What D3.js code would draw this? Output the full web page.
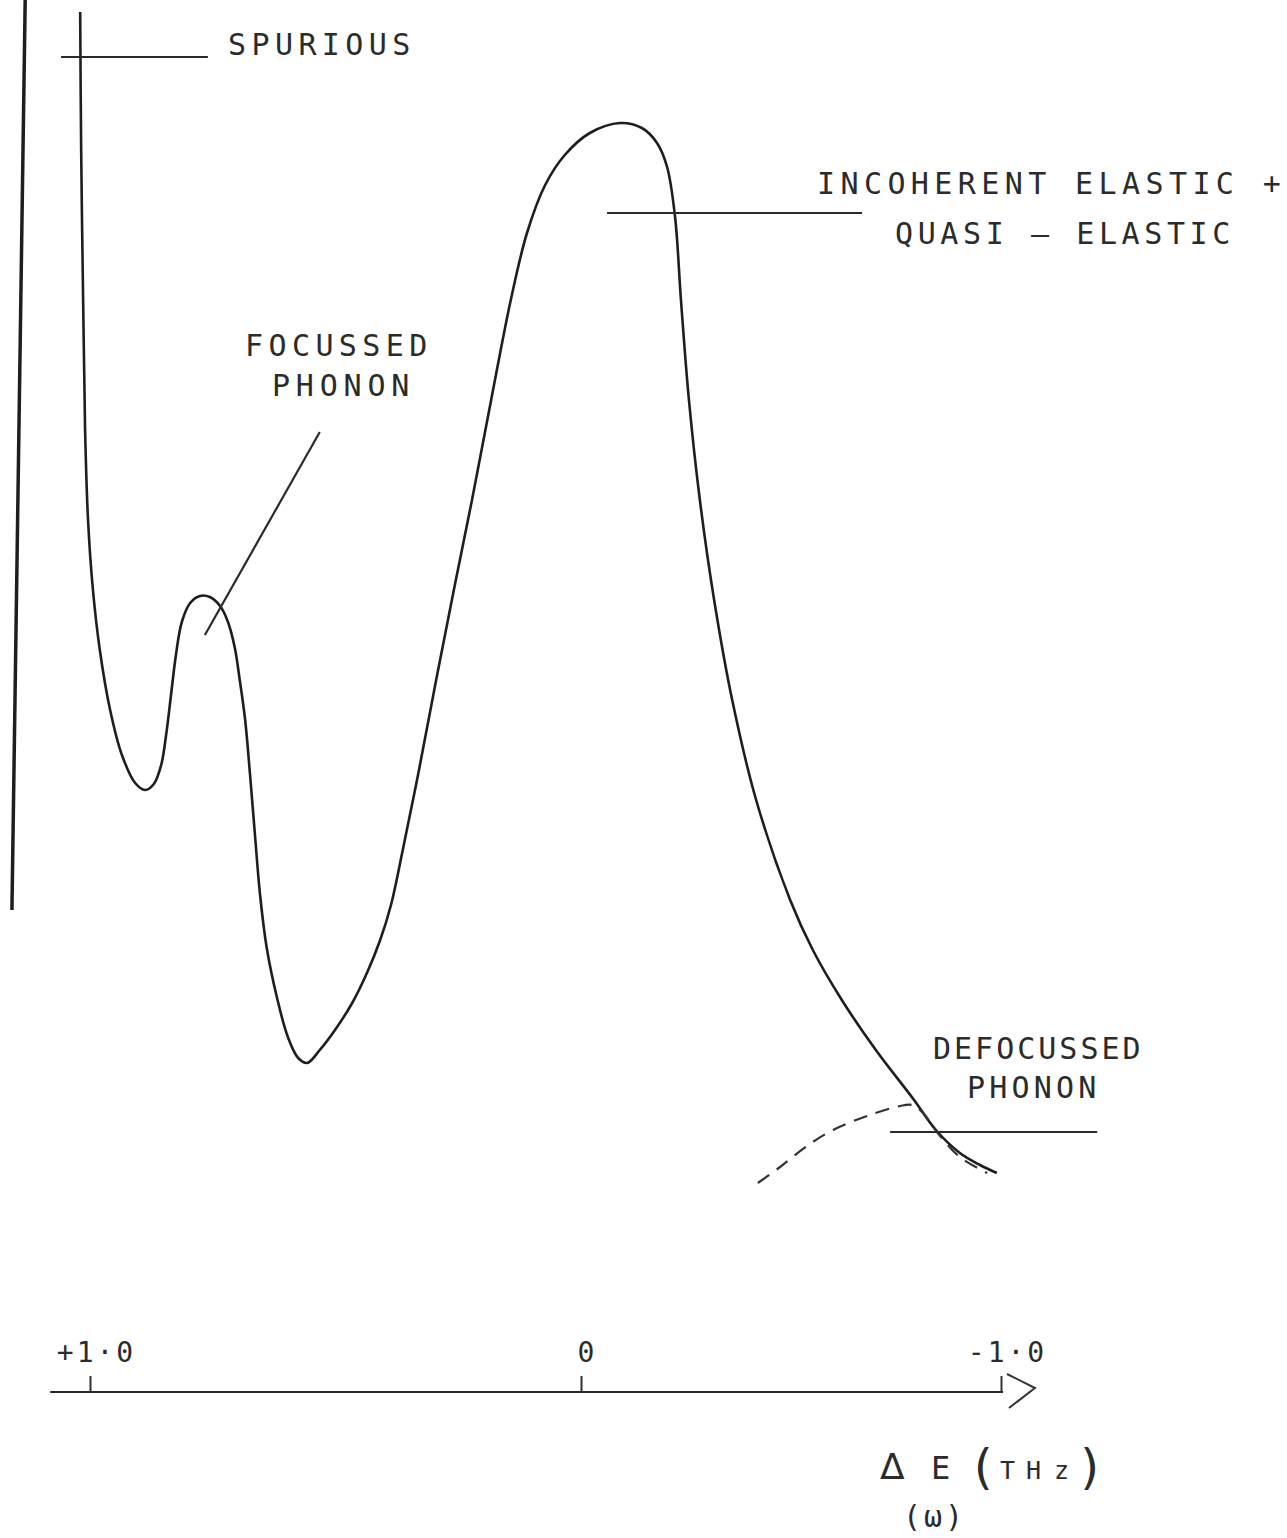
<!DOCTYPE html>
<html>
<head>
<meta charset="utf-8">
<script src="https://cdn.jsdelivr.net/npm/d3@7"></script>
<style>
  html, body { margin: 0; padding: 0; background: #fff; }
  svg text { font-family: "DejaVu Sans Mono", monospace; fill: #2b2b2b; }
</style>
</head>
<body>
<div id="chart"></div>
<script>
// energy transfer (THz) and intensity (arb. units)
const mainE = [1.020, 1.018, 1.014, 1.010, 1.004, 0.994, 0.980, 0.959, 0.935, 0.908,
               0.888, 0.870, 0.855, 0.845, 0.835, 0.825, 0.813, 0.796, 0.776, 0.756,
               0.735, 0.719, 0.705, 0.695, 0.684, 0.674, 0.664, 0.654, 0.640, 0.619,
               0.597, 0.576, 0.558, 0.532, 0.501, 0.466, 0.436, 0.409, 0.387, 0.363,
               0.330, 0.295, 0.259, 0.222, 0.183, 0.143, 0.110, 0.073, 0.033, -0.021,
               -0.093, -0.145, -0.181, -0.205, -0.224, -0.238, -0.257, -0.283, -0.317, -0.360,
               -0.417, -0.498, -0.552, -0.621, -0.702, -0.793, -0.845, -0.902, -0.950, -0.990];
const mainI = [137.8, 124.0, 109.0, 96.0, 87.0, 80.0, 74.0, 68.0, 63.5, 60.7,
               60.0, 60.6, 62.5, 65.5, 69.5, 73.5, 76.8, 78.7, 79.4, 79.3,
               78.4, 76.8, 74.2, 71.0, 67.0, 61.5, 55.5, 49.7, 44.2, 39.2,
               35.3, 33.2, 32.7, 34.0, 36.0, 38.7, 41.7, 45.0, 48.5, 54.0,
               62.0, 71.0, 80.0, 89.0, 99.0, 109.0, 115.7, 120.5, 123.5, 125.7,
               126.7, 126.2, 124.7, 122.3, 117.3, 109.0, 99.0, 89.0, 79.0, 69.0,
               59.0, 49.0, 44.0, 39.0, 34.0, 29.0, 26.0, 23.7, 22.5, 21.7];

// defocussed phonon (dashed)
const defocE = [-0.421, -0.474, -0.538, -0.600, -0.681, -0.760, -0.788, -0.812, -0.855, -0.902, -0.967];
const defocI = [20.7, 22.3, 24.4, 26.0, 27.4, 28.4, 28.5, 27.8, 25.4, 23.3, 21.7];

const tickVals = [1, 0, -1];
const tickLabels = ["+1\u00B70", "0", "-1\u00B70"];

const W = 1287, H = 1538;
const svg = d3.select("#chart").append("svg")
    .attr("width", W)
    .attr("height", H)
    .style("background", "#fff");

// hand drawn axis is not quite even, so piecewise scale
const x = d3.scaleLinear().domain([1, 0, -1]).range([90, 581, 1001]);
const y = d3.scaleLinear().domain([0, 139]).range([1390, 0]);

const mainData = mainE.map((e, i) => ({ e: e, v: mainI[i] }));
const defocData = defocE.map((e, i) => ({ e: e, v: defocI[i] }));

const line = d3.line()
    .x(d => x(d.e))
    .y(d => y(d.v))
    .curve(d3.curveCatmullRom.alpha(0.5));

const ink = "#1e1e1e";

// intensity axis (plain vertical stroke, slightly slanted)
svg.append("path")
    .attr("d", d3.line().x(d => x(d.e)).y(d => y(d.v))([{ e: 1.132, v: 139 }, { e: 1.159, v: 48 }]))
    .attr("stroke", ink).attr("stroke-width", 3.5).attr("fill", "none");

// main trace
svg.append("path")
    .datum(mainData)
    .attr("d", line)
    .attr("fill", "none")
    .attr("stroke", ink)
    .attr("stroke-width", 2.6)
    .attr("stroke-linejoin", "round");

// defocussed phonon
svg.append("path")
    .datum(defocData)
    .attr("d", line)
    .attr("fill", "none")
    .attr("stroke", "#333")
    .attr("stroke-width", 2.2)
    .attr("stroke-dasharray", "14,9");

// leader lines
function lead(e1, v1, e2, v2, w) {
    svg.append("line")
        .attr("x1", x(e1)).attr("y1", y(v1))
        .attr("x2", x(e2)).attr("y2", y(v2))
        .attr("stroke", "#2a2a2a")
        .attr("stroke-width", w || 2);
}
lead(1.059, 133.3, 0.760, 133.3);       // spurious
lead(-0.062, 117.7, -0.669, 117.7);     // incoherent elastic
lead(-0.736, 25.8, -1.229, 25.8);       // defocussed
lead(0.532, 95.8, 0.766, 75.5, 2.2);    // focussed pointer

// labels
function label(txt, px, py, ls) {
    svg.append("text")
        .attr("x", px).attr("y", py)
        .attr("font-size", 30)
        .attr("letter-spacing", ls)
        .text(txt);
}
label("SPURIOUS", 228, 55, 5.4);
label("INCOHERENT ELASTIC +", 817, 194, 5.4);
label("QUASI \u2014 ELASTIC", 895, 244, 4.6);
label("FOCUSSED", 245, 356, 5.4);
label("PHONON", 272, 396, 5.8);
label("DEFOCUSSED", 933, 1059, 3.0);
label("PHONON", 967, 1098, 4.2);

// energy axis
const axisY = 1392;
const gx = svg.append("g").attr("transform", `translate(0,${axisY})`);
gx.call(d3.axisTop(x)
    .tickValues(tickVals)
    .tickFormat((d, i) => tickLabels[i])
    .tickSize(16)
    .tickSizeOuter(0)
    .tickPadding(14));
gx.select(".domain").remove();
gx.selectAll(".tick line").attr("stroke", "#333").attr("stroke-width", 2);
gx.selectAll(".tick text")
    .attr("font-size", 28)
    .attr("letter-spacing", 3)
    .attr("dx", 6)
    .attr("font-family", "\"DejaVu Sans Mono\", monospace")
    .attr("fill", "#3a3a3a");

gx.append("line")
    .attr("x1", x(1.081)).attr("x2", x(-1.005))
    .attr("y1", 0).attr("y2", 0)
    .attr("stroke", "#2a2a2a").attr("stroke-width", 2.2);

// arrow head
const ax = x(-1);
gx.append("path")
    .attr("d", `M${ax + 6},-18 L${ax + 34},-4 L${ax + 8},16`)
    .attr("fill", "none")
    .attr("stroke", "#333")
    .attr("stroke-width", 2);

// axis title
const t = svg.append("text")
    .attr("y", 1479)
    .attr("fill", "#3a3a3a");
t.append("tspan").attr("x", 880).attr("font-size", 36).attr("font-family", "\"DejaVu Sans\", sans-serif").text("\u0394");
t.append("tspan").attr("x", 931).attr("font-size", 32).text("E");
t.append("tspan").attr("x", 968).attr("dy", 5).attr("font-size", 48).text("(");
t.append("tspan").attr("x", 1000).attr("dy", -5).attr("font-size", 25).text("T");
t.append("tspan").attr("x", 1026).attr("font-size", 25).text("H");
t.append("tspan").attr("x", 1054).attr("font-size", 25).text("z");
t.append("tspan").attr("x", 1076).attr("dy", 5).attr("font-size", 48).text(")");

svg.append("text")
    .attr("x", 903).attr("y", 1527)
    .attr("font-size", 30)
    .attr("letter-spacing", 3)
    .attr("fill", "#3a3a3a")
    .text("(\u03C9)");
</script>
</body>
</html>
